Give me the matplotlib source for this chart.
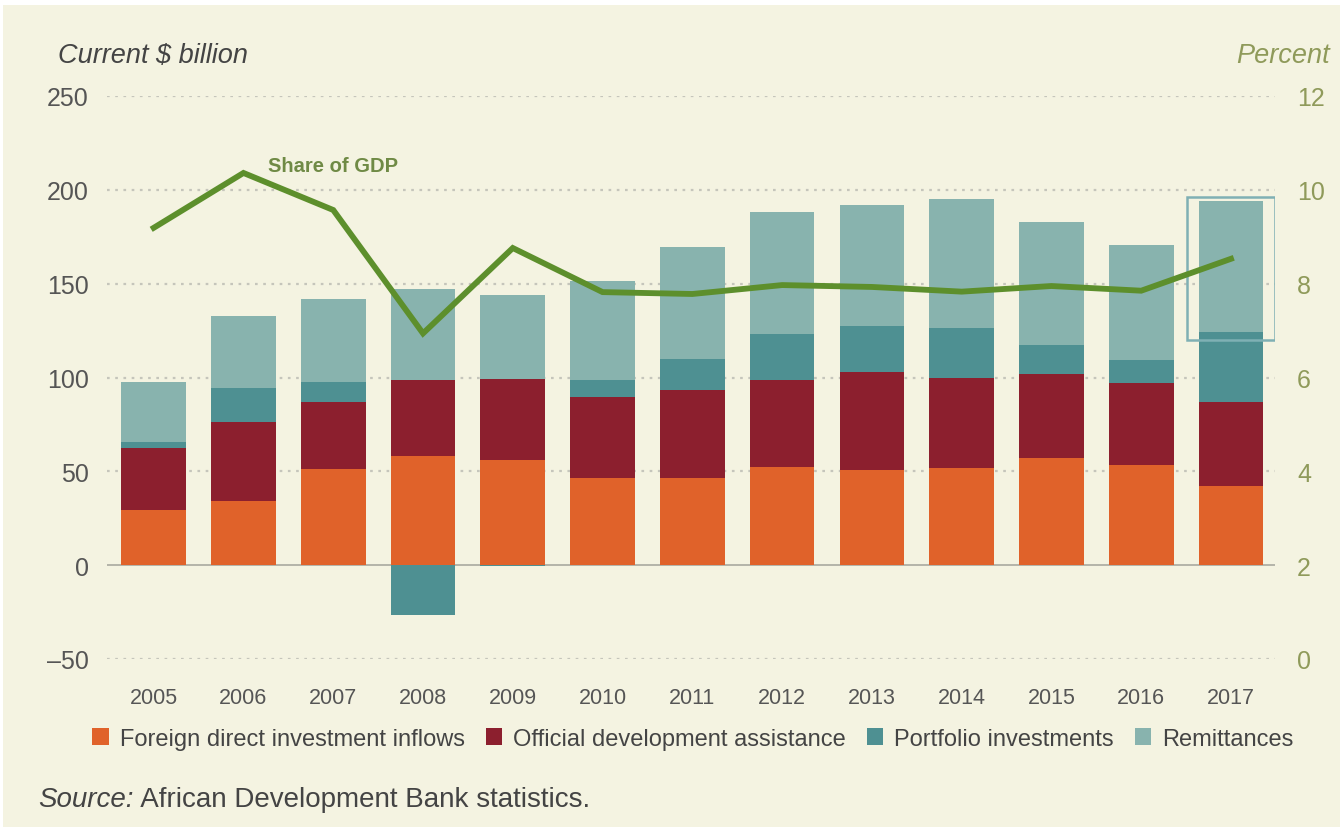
import matplotlib.pyplot as plt
import numpy as np
from matplotlib.patches import Rectangle

plt.rcParams['font.family'] = ['Liberation Sans', 'DejaVu Sans']

years = ['2005', '2006', '2007', '2008', '2009', '2010', '2011',
         '2012', '2013', '2014', '2015', '2016', '2017']
fdi = [29.3, 34.1, 51.0, 58.1, 56.3, 46.6, 46.6, 52.2, 50.5, 51.9, 56.9, 53.3, 42.1]
oda = [33.3, 42.1, 35.9, 40.5, 42.7, 43.1, 46.7, 46.3, 52.6, 48.0, 44.7, 43.9, 45.0]
portfolio = [3.0, 18.4, 10.6, -26.3, -0.7, 8.9, 16.7, 24.8, 24.3, 26.6, 15.7, 11.9, 37.1]
remittances = [31.8, 38.0, 44.1, 48.5, 45.1, 52.9, 59.3, 64.7, 64.5, 68.4, 65.7, 61.4, 69.7]
share_gdp = [9.19, 10.36, 9.57, 6.94, 8.76, 7.82, 7.78, 7.97, 7.93, 7.83, 7.95, 7.85, 8.53]

labels = ['Foreign direct investment inflows', 'Official development assistance',
          'Portfolio investments', 'Remittances']
colors = ['#e0622a', '#8c1f2e', '#4e9092', '#88b3ae']

bg = '#f4f3e1'
txt = '#555555'
green = '#5d8f2c'

fig = plt.figure(figsize=(13.4, 8.28), dpi=100, facecolor='white')
# cream panel, thin white margin on top and left like the scan
fig.patches.append(Rectangle((3 / 1340, 0), 1, 1 - 6 / 828, transform=fig.transFigure,
                             facecolor=bg, edgecolor='none', zorder=-10))
ax = fig.add_axes([107 / 1340, 1 - 660 / 828, 1168 / 1340, 563 / 828])
ax.set_facecolor('none')

x = np.arange(len(years))
w = 0.72
fdi = np.array(fdi)
oda = np.array(oda)
portfolio = np.array(portfolio)
remittances = np.array(remittances)

# negative portfolio flows hang below zero, positive ones stack on top
pos_port = np.where(portfolio > 0, portfolio, 0)
port_bottom = np.where(portfolio > 0, fdi + oda, 0)
ax.bar(x, fdi, w, color=colors[0], label=labels[0], zorder=3)
ax.bar(x, oda, w, bottom=fdi, color=colors[1], label=labels[1], zorder=3)
ax.bar(x, portfolio, w, bottom=port_bottom, color=colors[2], label=labels[2], zorder=3)
ax.bar(x, remittances, w, bottom=fdi + oda + pos_port, color=colors[3], label=labels[3], zorder=3)

# highlight box on 2017 remittances
top17 = fdi[-1] + oda[-1] + pos_port[-1] + remittances[-1]
base17 = fdi[-1] + oda[-1] + pos_port[-1]
ax.add_patch(Rectangle((x[-1] - 0.49, base17 - 4), 0.98, top17 - base17 + 6.5,
                       fill=False, edgecolor='#7fb0b4', linewidth=1.8, zorder=5))

ax.set_xlim(-0.52, 12.49)
ax.set_ylim(-50, 250)
for v in [-50, 50, 100, 150, 200, 250]:
    ax.axhline(v, color='#c5c5bb', linewidth=1.6, linestyle=(0, (1.2, 2.5)), zorder=1)
ax.axhline(0, color='#a9a9a0', linewidth=1.2, zorder=2)

for s in ax.spines.values():
    s.set_visible(False)
ax.set_yticks([-50, 0, 50, 100, 150, 200, 250])
ax.set_yticklabels(['\u201350', '0', '50', '100', '150', '200', '250'])
ax.tick_params(axis='y', length=0, pad=13, labelsize=18, labelcolor=txt)
ax.set_xticks(x)
ax.set_xticklabels(years)
ax.tick_params(axis='x', length=0, pad=20, labelsize=15.5, labelcolor=txt)

ax2 = ax.twinx()
ax2.plot(x, share_gdp, color=green, linewidth=4.2, zorder=6, solid_joinstyle='miter')
ax2.set_ylim(0, 12)
ax2.set_yticks([0, 2, 4, 6, 8, 10, 12])
ax2.tick_params(axis='y', length=0, pad=16, labelsize=18, labelcolor='#8f9a5a')
for s in ax2.spines.values():
    s.set_visible(False)
ax2.text(1.27, 10.51, 'Share of GDP', fontsize=14.5, fontweight='bold', color='#6f8a45',
         va='center', ha='left')

fig.text(58 / 1340, 1 - 56 / 828, 'Current $ billion', fontsize=19.5, style='italic',
         color='#444444', va='center', ha='left')
fig.text(1330 / 1340, 1 - 56 / 828, 'Percent', fontsize=19.5, style='italic',
         color='#8f9a5a', va='center', ha='right')

handles, labs = ax.get_legend_handles_labels()
leg = fig.legend(handles, labs, loc='center left', bbox_to_anchor=(71 / 1340, 1 - 740 / 828),
                 ncol=4, frameon=False, fontsize=17, handlelength=0.7, handleheight=0.75,
                 handletextpad=0.47, columnspacing=0.88)
for t in leg.get_texts():
    t.set_color('#444444')

src = fig.text(38 / 1340, 1 - 800 / 828, 'Source:', fontsize=20, style='italic',
               color='#444444', va='center', ha='left')
fig.add_artist(plt.Annotation(' African Development Bank statistics.', xy=(1, 0.5),
                              xycoords=src, fontsize=20, color='#444444',
                              va='center', ha='left'))

fig.savefig('out.png', dpi=100, facecolor=fig.get_facecolor())
